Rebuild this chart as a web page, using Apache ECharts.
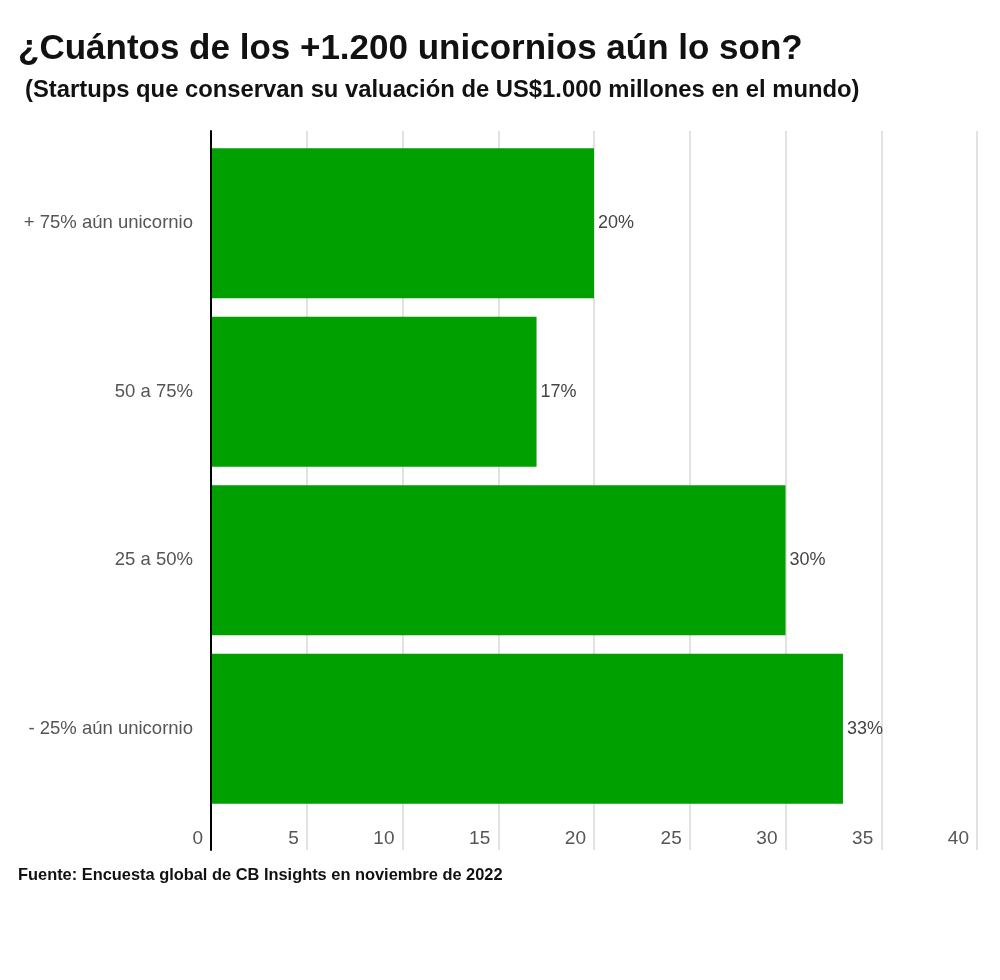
<!DOCTYPE html>
<html>
<head>
<meta charset="utf-8">
<script src="https://cdn.jsdelivr.net/npm/echarts@6/dist/echarts.min.js"></script>
<style>html,body{margin:0;padding:0;background:#fff}#c{width:1000px;height:980px}</style>
</head>
<body>
<div id="c"></div>
<script>
const categories = ['+ 75% aún unicornio', '50 a 75%', '25 a 50%', '- 25% aún unicornio'];
const values = [20, 17, 30, 33];
const titleText = '¿Cuántos de los +1.200 unicornios aún lo son?';
const subtitleText = '(Startups que conservan su valuación de US$1.000 millones en el mundo)';
const sourceText = 'Fuente: Encuesta global de CB Insights en noviembre de 2022';

const chart = echarts.init(document.getElementById('c'));
const sans = '"Liberation Sans", Arial, Helvetica, sans-serif';
chart.setOption({
  backgroundColor: '#fff',
  animation: false,
  title: [
    { text: titleText, left: 18, top: 32, padding: 0, textStyle: { fontFamily: sans, fontWeight: 'bold', fontSize: 35, color: '#111' } },
    { text: subtitleText, left: 25, top: 78, padding: 0, textStyle: { fontFamily: sans, fontWeight: 'bold', fontSize: 23.8, color: '#111' } },
    { text: sourceText, left: 18, top: 867, padding: 0, textStyle: { fontFamily: sans, fontWeight: 'bold', fontSize: 16.4, color: '#111' } }
  ],
  grid: [
    { left: 211, right: 23, top: 131, bottom: 130 },
    { left: 211, right: 23, top: 139, bottom: 167 }
  ],
  xAxis: [
    {
      gridIndex: 0, type: 'value', min: 0, max: 40, interval: 5,
      axisLine: { show: false }, axisTick: { show: false },
      splitLine: { show: true, lineStyle: { color: '#d9d9d9', width: 1.5 } },
      axisLabel: { inside: true, margin: 2, align: 'right', verticalAlign: 'bottom', padding: [0, 8, 0, 0],
        fontFamily: sans, fontSize: 19, color: '#555' }
    },
    { gridIndex: 1, type: 'value', min: 0, max: 40, show: false }
  ],
  yAxis: [
    {
      gridIndex: 0, type: 'value', z: 5,
      axisLine: { show: true, lineStyle: { color: '#000', width: 2 } },
      axisTick: { show: false }, axisLabel: { show: false }, splitLine: { show: false }
    },
    {
      gridIndex: 1, type: 'category', data: categories, inverse: true,
      axisLine: { show: false }, axisTick: { show: false },
      axisLabel: { margin: 18, fontFamily: sans, fontSize: 18.5, color: '#555' }
    }
  ],
  series: [{
    type: 'bar', xAxisIndex: 1, yAxisIndex: 1, data: values,
    barCategoryGap: '11%',
    itemStyle: { color: '#00a000' },
    label: { show: true, position: 'right', distance: 4, formatter: '{c}%',
      fontFamily: sans, fontSize: 18, color: '#444' }
  }]
});
</script>
</body>
</html>
